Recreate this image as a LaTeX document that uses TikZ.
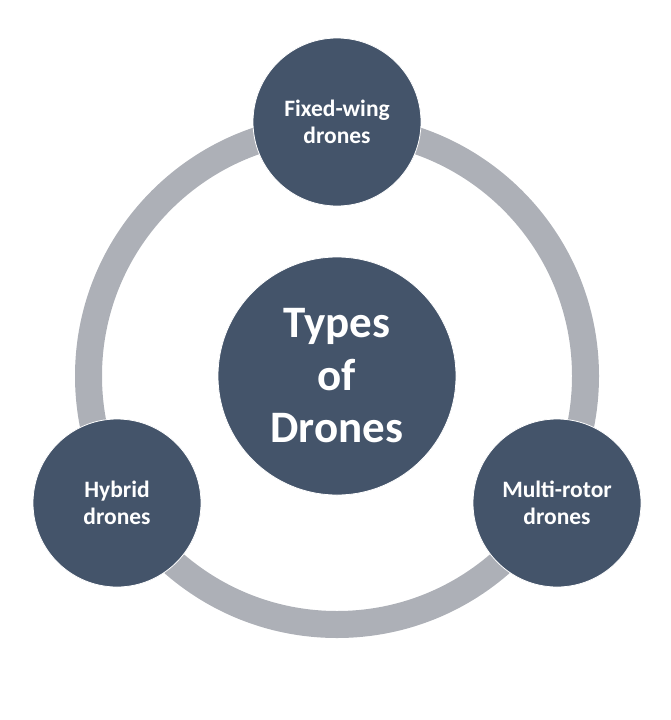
\documentclass[tikz,border=0pt]{standalone}
\usepackage{fontspec}
\setmainfont{Carlito}
\usetikzlibrary{calc}

\begin{document}
\begin{tikzpicture}[x=1pt,y=-1pt]
   \def\ringr{248.5pt}
   \def\ringw{27pt}
   \definecolor{slate}{HTML}{44546A}
   \definecolor{ringgray}{HTML}{ADB0B7}
   \tikzset{kind/.style={circle, fill=slate, draw=white, line width=0.8pt, minimum size=168pt, inner sep=0pt, text=white, align=center, font=\bfseries\fontsize{23.5}{27}\selectfont},
            hubnode/.style={kind, minimum size=238pt, font=\bfseries\fontsize{45}{52.5}\selectfont}}
   \useasboundingbox (0,0) rectangle (671,720);
   \coordinate (hub) at (337,376);
   \draw[color=ringgray, line width=\ringw] (hub) circle[radius=\ringr];
   \node[hubnode] (types) at (hub) {Types\\of\\Drones};
   \node[kind] (fixed) at (337,122) {Fixed-wing\\drones};
   \node[kind] (hybrid) at (117,503) {Hybrid\\drones};
   \node[kind] (multi) at (557,503) {Multi-rotor\\drones};
\end{tikzpicture}
\end{document}
